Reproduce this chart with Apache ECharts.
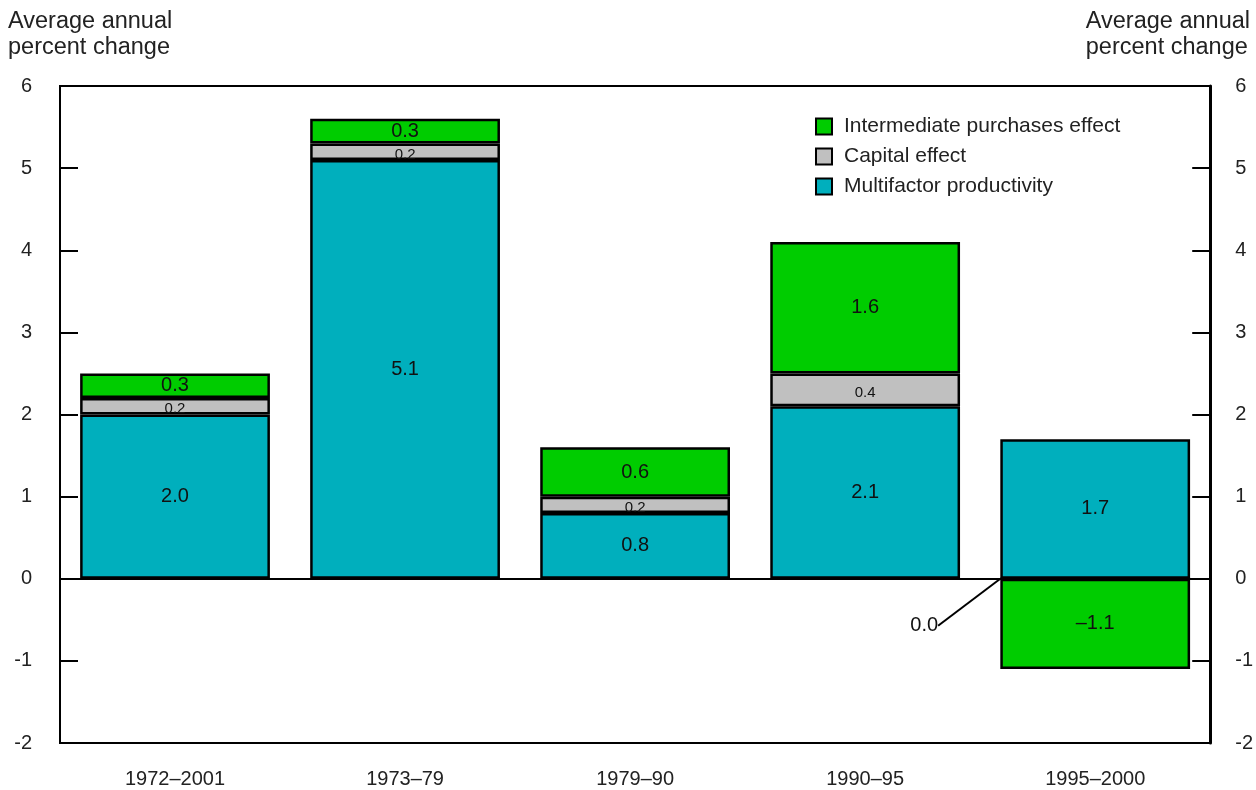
<!DOCTYPE html>
<html>
<head>
<meta charset="utf-8">
<script src="https://cdn.jsdelivr.net/npm/echarts@6/dist/echarts.min.js"></script>
<style>
  html, body { margin: 0; padding: 0; background: #fff; }
  #chart { width: 1256px; height: 790px; }
</style>
</head>
<body>
<div id="chart"></div>
<script>
// Periods and component contributions (average annual percent change)
const periods = ['1972–2001', '1973–79', '1979–90', '1990–95', '1995–2000'];
const multifactor = [2.0, 5.1, 0.8, 2.1, 1.7];
const capital = [0.2, 0.2, 0.2, 0.4, 0.0];
const intermediate = [0.3, 0.3, 0.6, 1.6, -1.1];
const yTicks = { min: -2, max: 6, interval: 1 };

const FONT = 'Liberation Sans, Arial, Helvetica, sans-serif';
const COLORS = { multifactor: '#00AFBD', capital: '#C0C0C0', intermediate: '#00CC00' };
const fmt = v => (v < 0 ? '\u2013' + Math.abs(v).toFixed(1) : v.toFixed(1));

// Zero-valued capital entries sit on the zero line with a call-out label;
// the rest are stacked between productivity and intermediate purchases.
const capitalStacked = capital.map(v => (v === 0 ? null : v));
const capitalZero = capital.map(v => (v === 0 ? v : null));

const chart = echarts.init(document.getElementById('chart'));

const baseItem = color => ({ color: color, borderColor: '#000', borderWidth: 2.5 });
const valueLabel = (size, extra) => Object.assign({
  show: true, position: 'inside', color: '#111', fontFamily: FONT, fontSize: size,
  formatter: p => fmt(p.value)
}, extra || {});

const titleStyle = { fontSize: 23.5, fontWeight: 'normal', color: '#222', lineHeight: 26, fontFamily: FONT };

chart.setOption({
  animation: false,
  textStyle: { fontFamily: FONT },
  title: [
    { text: 'Average annual\npercent change', left: 3, top: 4, textStyle: titleStyle },
    { text: 'Average annual\npercent change', right: 1, top: 4, textStyle: titleStyle }
  ],
  legend: {
    orient: 'vertical', left: 815, top: 116, padding: 0,
    icon: 'rect', itemWidth: 16, itemHeight: 16, itemGap: 9,
    data: ['Intermediate purchases effect', 'Capital effect', 'Multifactor productivity'],
    textStyle: { fontSize: 21, color: '#222', fontFamily: FONT, padding: [0, 0, 0, 7] },
    itemStyle: { borderColor: '#000', borderWidth: 2 }
  },
  grid: { left: 60, right: 45, top: 86, bottom: 47, show: true, borderColor: '#000', borderWidth: 2, backgroundColor: 'transparent' },
  xAxis: {
    type: 'category', data: periods,
    axisLine: { onZero: false, lineStyle: { color: '#000', width: 2 } },
    axisTick: { show: false },
    axisLabel: { fontSize: 20, color: '#222', margin: 26, fontFamily: FONT }
  },
  yAxis: [
    { type: 'value', position: 'left', min: yTicks.min, max: yTicks.max, interval: yTicks.interval,
      axisLine: { show: true, lineStyle: { color: '#000', width: 2 } },
      axisTick: { show: true, inside: true, length: 18, lineStyle: { color: '#000', width: 2 } },
      splitLine: { show: false },
      axisLabel: { fontSize: 20, color: '#222', margin: 28, fontFamily: FONT } },
    { type: 'value', position: 'right', min: yTicks.min, max: yTicks.max, interval: yTicks.interval,
      axisLine: { show: true, lineStyle: { color: '#000', width: 3 } },
      axisTick: { show: true, inside: true, length: 18, lineStyle: { color: '#000', width: 2 } },
      splitLine: { show: false },
      axisLabel: { fontSize: 20, color: '#222', margin: 25, fontFamily: FONT } }
  ],
  series: [
    {
      name: 'Multifactor productivity', type: 'bar', stack: 'total', barWidth: '82.5%',
      data: multifactor, itemStyle: baseItem(COLORS.multifactor), label: valueLabel(20),
      markLine: {
        silent: true, symbol: 'none', label: { show: false },
        lineStyle: { color: '#000', width: 2, type: 'solid' },
        data: [{ yAxis: 0 }]
      }
    },
    {
      name: 'Capital effect', type: 'bar', stack: 'total', barWidth: '82.5%',
      data: capitalStacked, itemStyle: baseItem(COLORS.capital),
      label: valueLabel(15, { offset: [0, 3] })
    },
    {
      name: 'Intermediate purchases effect', type: 'bar', stack: 'total', barWidth: '82.5%',
      data: intermediate, itemStyle: baseItem(COLORS.intermediate), label: valueLabel(20)
    },
    {
      name: 'Capital effect', type: 'bar', stack: 'zero', barWidth: '82.5%', barGap: '-100%',
      data: capitalZero, itemStyle: baseItem(COLORS.capital),
      label: valueLabel(20),
      labelLine: { show: true, lineStyle: { color: '#000', width: 2 } },
      labelLayout: { dx: -171, dy: 47 }
    }
  ]
});
</script>
</body>
</html>
